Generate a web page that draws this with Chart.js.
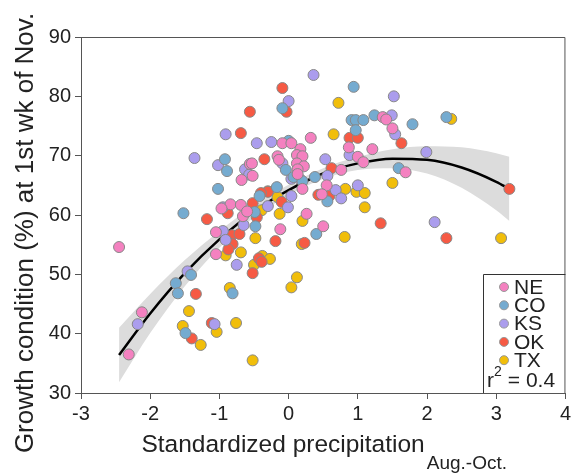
<!DOCTYPE html>
<html>
<head>
<meta charset="utf-8">
<script src="https://cdn.jsdelivr.net/npm/chart.js@4.4.1/dist/chart.umd.min.js"></script>
<style>
  body { margin: 0; background: #fff; }
  canvas { display: block; }
</style>
</head>
<body>
<canvas id="chart" width="574" height="474"></canvas>
<script>
// values: [standardized precip, growth condition %]
const statesNE = [
    [-0.56, 68.6], [-0.68, 65.9], [-0.84, 61.8], [-0.69, 61.7], [-0.66, 59.8], [-1.05, 57.1], [-1.05, 53.4],
    [-2.45, 54.6], [-2.12, 43.6], [-2.31, 36.5], [0.32, 73.0], [-0.09, 72.1], [0.04, 72.1], [0.17, 71.1],
    [0.87, 71.4], [1.21, 71.1], [0.12, 70.1], [0.2, 69.9], [-0.16, 69.9], [-0.14, 69.3], [-0.53, 68.7],
    [-0.52, 66.6], [0.12, 68.7], [0.22, 68.2], [1.0, 69.8], [1.08, 68.9], [0.13, 67.7], [0.13, 66.9],
    [0.76, 67.6], [1.69, 67.2], [0.2, 64.4], [0.55, 65.0], [0.48, 63.5], [0.26, 60.2], [1.36, 76.5],
    [1.41, 76.1], [1.50, 74.6], [0.5, 58.1], [-0.12, 57.6], [-0.97, 61.1], [-0.6, 60.6]
];
const statesCO = [
    [-0.92, 69.4], [-0.89, 67.4], [-1.02, 64.4], [-1.52, 60.3], [-0.09, 78.0], [0.94, 81.6], [0.91, 76.0],
    [0.97, 76.0], [1.08, 76.0], [1.24, 76.8], [0.97, 74.3], [-0.04, 67.6], [0.07, 66.4], [1.59, 67.9],
    [0.38, 66.4], [0.56, 62.3], [-0.17, 64.7], [-0.42, 63.2], [2.28, 76.5], [1.79, 75.3], [-1.41, 49.9],
    [-1.63, 48.5], [-1.6, 46.8], [-0.81, 46.8], [-1.49, 40.1], [0.4, 56.8], [-0.48, 58.1], [0.0, 72.5],
    [-0.49, 60.5], [0.2, 65.7]
];
const statesKS = [
    [-0.91, 73.6], [-1.36, 69.6], [-1.02, 68.4], [-0.63, 67.7], [-0.95, 61.3], [0.36, 83.6], [0.0, 79.2],
    [1.52, 80.0], [1.49, 76.8], [1.54, 73.6], [-0.46, 72.1], [-0.25, 72.3], [-0.09, 68.7], [0.53, 69.4],
    [0.88, 70.1], [0.56, 66.6], [0.04, 66.1], [1.0, 65.0], [0.68, 64.2], [0.76, 62.8], [0.04, 63.2],
    [-0.01, 61.3], [-0.3, 61.5], [1.99, 70.6], [2.11, 58.8], [-0.95, 57.3], [-0.91, 55.8], [-0.75, 51.6],
    [-0.65, 58.3], [-1.46, 50.5], [-2.18, 41.6], [-1.07, 41.6], [-0.57, 66.8], [0.16, 66.1]
];
const statesOK = [
    [-0.56, 77.4], [-0.69, 73.8], [-0.88, 60.3], [-1.18, 59.3], [-0.09, 81.4], [-0.03, 77.4], [0.88, 73.0],
    [1.0, 73.0], [1.63, 72.1], [-0.35, 69.4], [0.62, 67.9], [0.43, 63.4], [0.59, 63.2], [-0.3, 63.9],
    [-0.1, 62.2], [-0.52, 62.0], [3.19, 64.4], [2.28, 56.1], [-0.82, 56.6], [-0.71, 56.8], [-0.81, 55.1],
    [-0.87, 54.2], [-1.34, 46.7], [-1.40, 39.2], [-1.11, 41.8], [-0.52, 50.2], [1.33, 58.6], [-0.19, 55.6],
    [0.23, 55.3], [-0.46, 59.6], [-0.43, 52.7], [-0.39, 52.1], [-0.4, 63.7]
];
const statesTX = [
    [0.72, 78.9], [0.65, 73.6], [0.82, 64.4], [0.98, 63.9], [1.1, 63.7], [1.5, 65.4], [1.1, 61.3],
    [-0.16, 63.0], [-0.13, 60.2], [-0.39, 60.8], [2.35, 76.2], [3.07, 56.1], [-0.91, 53.2], [-0.69, 53.7],
    [-0.85, 47.7], [-1.44, 43.8], [-1.53, 41.3], [-1.27, 38.1], [-1.04, 40.3], [-0.76, 41.8], [0.2, 59.0],
    [0.81, 56.3], [0.19, 55.1], [-0.48, 56.1], [-0.38, 53.1], [-0.27, 52.6], [-0.5, 51.6], [0.12, 49.5],
    [0.04, 47.8], [-0.52, 35.5], [-0.3, 64.0]
];

// fitted curve and its confidence band, read at these x positions
const fitX     = [-2.45, -2, -1.5, -1, -0.5, 0, 0.5, 1, 1.5, 2, 2.5, 3, 3.19];
const fitY     = [36.4, 43.4, 50.2, 55.9, 60.6, 64.2, 67.0, 68.7, 69.5, 69.3, 68.0, 65.6, 64.4];
const bandLow  = [31.8, 40.1, 48.0, 54.5, 59.6, 63.3, 66.1, 67.6, 67.9, 67.0, 64.6, 60.8, 59.0];
const bandHigh = [41.0, 46.7, 52.4, 57.3, 61.6, 65.1, 67.9, 69.8, 71.1, 71.6, 71.4, 70.4, 69.8];

const stateNames = ['NE', 'CO', 'KS', 'OK', 'TX'];
const stateColors = ['#f481c0', '#75abd0', '#ab9ded', '#f65a44', '#f1be0a'];
const stateData = [statesNE, statesCO, statesKS, statesOK, statesTX];

const xTicks = [-3, -2, -1, 0, 1, 2, 3, 4];
const yTicks = [30, 40, 50, 60, 70, 80, 90];

const FONT = '"Liberation Sans", Arial, Helvetica, sans-serif';
const TEXT = '#222';
const AXIS = '#555';

const datasets = [];
stateNames.forEach((name, i) => {
    datasets.push({
        label: name,
        data: stateData[i].map(p => ({ x: p[0], y: p[1] })),
        backgroundColor: stateColors[i],
        borderColor: '#888',
        borderWidth: 1,
        pointRadius: 5.5,
        order: 0
    });
});
datasets.push({
    type: 'line',
    label: 'fit',
    data: fitX.map((x, i) => ({ x: x, y: fitY[i] })),
    borderColor: '#000',
    borderWidth: 2.5,
    pointRadius: 0,
    cubicInterpolationMode: 'monotone',
    fill: false,
    order: 5
});
datasets.push({
    type: 'line',
    label: 'bandLow',
    data: fitX.map((x, i) => ({ x: x, y: bandLow[i] })),
    borderWidth: 0,
    pointRadius: 0,
    cubicInterpolationMode: 'monotone',
    fill: false,
    order: 10
});
datasets.push({
    type: 'line',
    label: 'bandHigh',
    data: fitX.map((x, i) => ({ x: x, y: bandHigh[i] })),
    borderWidth: 0,
    pointRadius: 0,
    cubicInterpolationMode: 'monotone',
    backgroundColor: '#dcdcdc',
    fill: '-1',
    order: 10
});

// frame, axis titles and legend box
const decor = {
    id: 'decor',
    afterDraw(chart) {
        const ctx = chart.ctx;
        const a = chart.chartArea;
        ctx.save();
        ctx.strokeStyle = AXIS;
        ctx.lineWidth = 1;
        ctx.beginPath();
        ctx.moveTo(a.left, a.top + 0.5);
        ctx.lineTo(a.right - 0.5, a.top + 0.5);
        ctx.lineTo(a.right - 0.5, a.bottom);
        ctx.stroke();

        // x title with subscript
        ctx.fillStyle = TEXT;
        ctx.textBaseline = 'alphabetic';
        const main = 'Standardized precipitation';
        const sub = 'Aug.-Oct.';
        ctx.font = '24.5px ' + FONT;
        const w1 = ctx.measureText(main).width;
        ctx.font = '19px ' + FONT;
        const w2 = ctx.measureText(sub).width;
        let x0 = (a.left + a.right) / 2 - (w1 + w2) / 2;
        ctx.font = '24.5px ' + FONT;
        ctx.textAlign = 'left';
        ctx.fillText(main, x0, 452);
        ctx.font = '19px ' + FONT;
        ctx.fillText(sub, x0 + w1 + 2, 469);

        // y title
        ctx.save();
        ctx.translate(33, 233);
        ctx.rotate(-Math.PI / 2);
        ctx.font = '26px ' + FONT;
        ctx.textAlign = 'center';
        ctx.fillText('Growth condition (%) at 1st wk of Nov.', 0, 0);
        ctx.restore();

        // legend
        const lx = 483, ly = 274;
        ctx.strokeStyle = '#333';
        ctx.beginPath();
        ctx.moveTo(lx + 0.5, a.bottom);
        ctx.lineTo(lx + 0.5, ly + 0.5);
        ctx.lineTo(a.right, ly + 0.5);
        ctx.stroke();
        ctx.font = '21px ' + FONT;
        ctx.textAlign = 'left';
        ctx.textBaseline = 'middle';
        stateNames.forEach((name, i) => {
            const cy = 287 + i * 18.3;
            ctx.beginPath();
            ctx.arc(504, cy, 4.5, 0, Math.PI * 2);
            ctx.fillStyle = stateColors[i];
            ctx.fill();
            ctx.strokeStyle = '#999';
            ctx.stroke();
            ctx.fillStyle = TEXT;
            ctx.fillText(name, 514, cy + 1);
        });
        ctx.fillText('r', 487, 381);
        const rw = ctx.measureText('r').width;
        ctx.font = '14px ' + FONT;
        ctx.fillText('2', 487 + rw, 372);
        ctx.font = '21px ' + FONT;
        ctx.fillText(' = 0.4', 487 + rw + 8, 381);
        ctx.restore();
    }
};

new Chart(document.getElementById('chart'), {
    type: 'scatter',
    data: { datasets: datasets },
    options: {
        responsive: false,
        animation: false,
        layout: { padding: { top: 37, right: 8, left: 0, bottom: 0 } },
        plugins: {
            legend: { display: false },
            tooltip: { enabled: false }
        },
        scales: {
            x: {
                min: -3,
                max: 4,
                afterFit: s => { s.height = 81; },
                afterBuildTicks: s => { s.ticks = xTicks.map(v => ({ value: v })); },
                grid: { drawOnChartArea: false, drawTicks: true, tickLength: 6, color: AXIS },
                border: { display: true, color: AXIS },
                ticks: { color: TEXT, font: { size: 20, family: FONT }, padding: 3, maxRotation: 0 }
            },
            y: {
                min: 30,
                max: 90,
                afterFit: s => { s.width = 81; },
                afterBuildTicks: s => { s.ticks = yTicks.map(v => ({ value: v })); },
                grid: { drawOnChartArea: false, drawTicks: true, tickLength: 6, color: AXIS },
                border: { display: true, color: AXIS },
                ticks: { color: TEXT, font: { size: 20, family: FONT }, padding: 4 }
            }
        }
    },
    plugins: [decor]
});
</script>
</body>
</html>
